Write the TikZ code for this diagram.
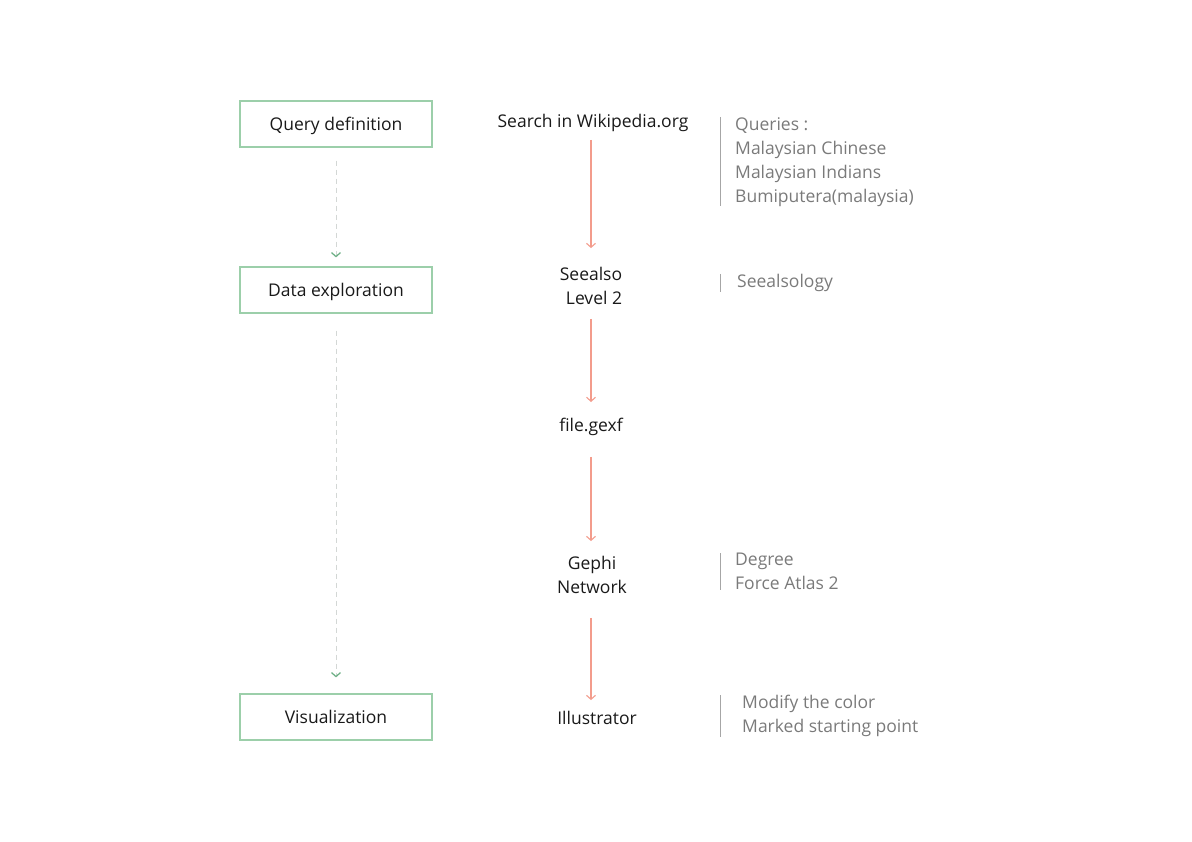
\documentclass[tikz,border=0pt]{standalone}
\usepackage{fontspec}
\setmainfont{Open Sans}
\usetikzlibrary{arrows.meta,positioning}
\definecolor{boxgreen}{HTML}{9CCFAA}
\definecolor{tipgreen}{HTML}{6AAE83}
\definecolor{dashgray}{HTML}{D3D7D5}
\definecolor{flowred}{HTML}{F39C8C}
\definecolor{notegray}{HTML}{7A7A7A}
\definecolor{bargray}{HTML}{A6A6A6}

\begin{document}
\begin{tikzpicture}[x=1pt, y=-1pt,
	stage/.style={draw=boxgreen, line width=1.2pt, minimum width=192pt, minimum height=46pt, inner sep=0pt, text height=13pt, text depth=0pt, font=\fontsize{17.5}{21}\selectfont, text=black!90},
	tool/.style={align=center, inner sep=0pt, font=\fontsize{17.5}{24}\selectfont, text=black!90},
	note/.style={align=left, anchor=north west, inner xsep=15pt, inner ysep=0pt, font=\fontsize{17.5}{24}\selectfont, text=notegray},
	flow/.style={draw=flowred, line width=1.1pt, -{Straight Barb[length=4pt, width=9pt]}},
	phase/.style={draw=dashgray, line width=1pt, dash pattern=on 5pt off 4pt, -{Straight Barb[color=tipgreen, length=4pt, width=9pt, line width=1.2pt]}},
	bar/.style={draw=bargray, line width=1pt}]
	\useasboundingbox (0,0) rectangle (1192,842);

	% stages on the left
	\node[stage] (query) at (336,124) {Query definition};
	\node[stage] (explore) at (336,290) {Data exploration};
	\node[stage] (visual) at (336,717) {Visualization};

	\draw[phase, shorten <=13pt, shorten >=9pt] (query) -- (explore);
	\draw[phase, shorten <=17pt, shorten >=16pt] (explore) -- (visual);

	% tools in the middle
	\node[tool] (search) at (593,123) {Search in Wikipedia.org};
	\node[tool] (seealso) at (591,286) {Seealso\\\hspace*{6pt}Level 2};
	\node[tool] (gexf) at (591,427) {file.gexf};
	\node[tool] (gephi) at (592,575) {Gephi\\Network};
	\node[tool] (illus) at (597,718) {Illustrator};

	\draw[flow, shorten <=8pt, shorten >=19pt] (seealso.north |- search.south) -- (seealso.north);
	\draw[flow, shorten <=14pt, shorten >=16pt] (seealso.south) -- (gexf.north);
	\draw[flow, shorten <=21pt, shorten >=15pt] (gexf.south) -- (gexf.south |- gephi.north);
	\draw[flow, shorten <=24pt, shorten >=11pt] (gephi.south -| gexf) -- (gexf |- illus.north);

	% notes on the right
	\node[note] (queries) at (720,117) {Queries :\\Malaysian Chinese\\Malaysian Indians\\Bumiputera(malaysia)};
	\node[note, inner xsep=17pt] (seealsology) at (720,274) {Seealsology};
	\node[note] (layout) at (720,553) {Degree\\Force Atlas 2};
	\node[note, inner xsep=22pt] (modify) at (720,695) {Modify the color\\Marked starting point};

	\foreach \n in {queries, seealsology, layout, modify} {
		\draw[bar] (\n.north west) -- (\n.south west);
	}
\end{tikzpicture}
\end{document}
